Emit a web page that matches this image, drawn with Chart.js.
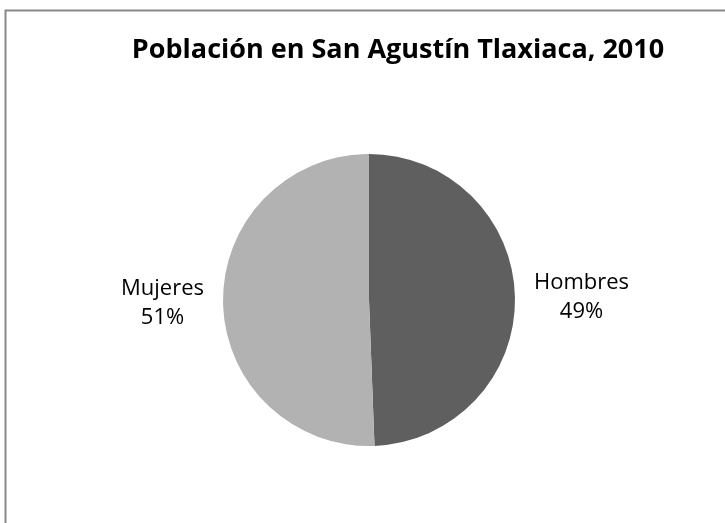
<!DOCTYPE html>
<html><head><meta charset="utf-8">
<script src="https://cdn.jsdelivr.net/npm/chart.js@4/dist/chart.umd.min.js"></script>
<style>html,body{margin:0;padding:0;background:#fff;}#wrap{width:725px;height:523px;position:relative;}</style>
</head><body><div id="wrap"><canvas id="c" width="725" height="523"></canvas></div>
<script>
const titleText = "Población en San Agustín Tlaxiaca, 2010";
const categories = ["Hombres", "Mujeres"];
const population = [15836, 16221];
const percentLabels = ["49%", "51%"];
const sliceColors = ["#5f5f5f", "#b2b2b2"];

const decor = {
  id: 'decor',
  beforeDraw(chart) {
    const ctx = chart.ctx;
    ctx.save();
    ctx.strokeStyle = '#878787';
    ctx.lineWidth = 2;
    ctx.beginPath();
    ctx.moveTo(5.5, 530); ctx.lineTo(5.5, 10.5); ctx.lineTo(730, 10.5);
    ctx.stroke();
    ctx.restore();
  },
  afterDraw(chart) {
    const ctx = chart.ctx;
    ctx.save();
    ctx.fillStyle = '#000';
    ctx.font = 'bold 27px "Open Sans", Lato, sans-serif';
    ctx.textAlign = 'center';
    ctx.textBaseline = 'middle';
    ctx.fillText(titleText, 398, 50);
    const meta = chart.getDatasetMeta(0);
    ctx.font = '22px "Open Sans", Lato, sans-serif';
    ctx.fillStyle = '#000';
    meta.data.forEach((arc, i) => {
      const p = arc.getProps(['x','y','startAngle','endAngle','outerRadius'], true);
      const mid = (p.startAngle + p.endAngle) / 2;
      const r = p.outerRadius + 19;
      const x = p.x + Math.cos(mid) * r;
      const y = p.y + Math.sin(mid) * r;
      const lines = [categories[i], percentLabels[i]];
      const w = Math.max(...lines.map(l => ctx.measureText(l).width));
      const cx = Math.cos(mid) >= 0 ? x + w / 2 : x - w / 2;
      ctx.textAlign = 'center';
      ctx.textBaseline = 'middle';
      ctx.fillText(lines[0], cx, y - 14.5);
      ctx.fillText(lines[1], cx, y + 14.5);
    });
    ctx.restore();
  }
};

new Chart(document.getElementById('c'), {
  type: 'pie',
  data: {
    labels: categories,
    datasets: [{ data: population, backgroundColor: sliceColors, borderWidth: 0 }]
  },
  options: {
    responsive: false,
    animation: false,
    layout: { padding: { left: 223, right: 210, top: 154, bottom: 77 } },
    plugins: { legend: { display: false }, title: { display: false }, tooltip: { enabled: false } }
  },
  plugins: [decor]
});
</script></body></html>
